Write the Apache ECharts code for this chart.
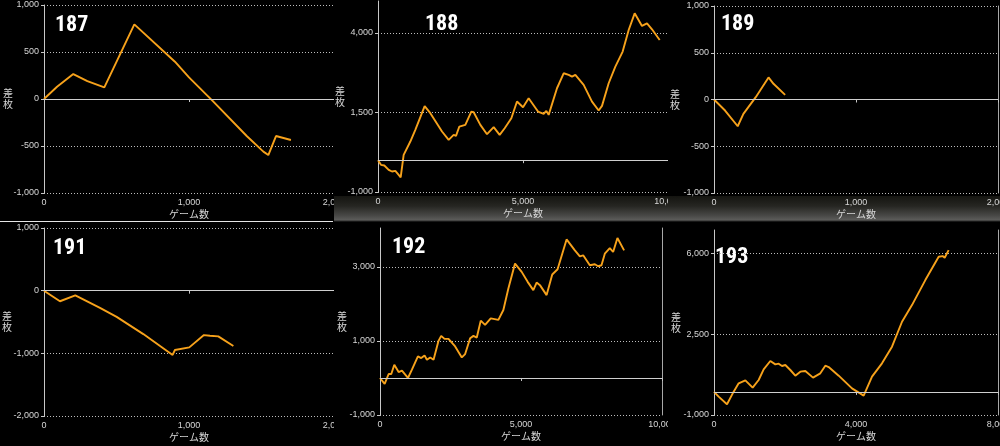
<!DOCTYPE html>
<html><head><meta charset="utf-8">
<script src="https://cdn.jsdelivr.net/npm/echarts@6/dist/echarts.min.js"></script>
<style>
html,body{margin:0;padding:0;background:#000;width:1000px;height:446px;overflow:hidden;position:relative}
.p{position:absolute;overflow:hidden;background:#000}
.band{background:linear-gradient(to bottom,#000 0px,#000 196px,#141410 196px,#262622 206px,#4a4a48 216px,#5c5c5a 220px,#000 222px)}
#sep{position:absolute;left:0;top:221px;width:333px;height:1px;background:#e6e6e6}
</style></head><body>
<div id="c187" class="p" style="left:0;top:0;width:334px;height:221px"></div>
<div id="c188" class="p band" style="left:334px;top:0;width:334px;height:222px"></div>
<div id="c189" class="p band" style="left:668px;top:0;width:332px;height:222px"></div>
<div id="c191" class="p" style="left:0;top:223px;width:334px;height:223px"></div>
<div id="c192" class="p" style="left:334px;top:223px;width:334px;height:223px"></div>
<div id="c193" class="p" style="left:668px;top:223px;width:332px;height:223px"></div>
<div id="sep"></div>
<script>
// ---- data (game count, coin difference) ----
const games187 = [0, 90, 202, 299, 416, 623, 903, 1000, 1168, 1398, 1513, 1547, 1600, 1703];
const diff187  = [0, 130, 265, 191, 124, 794, 397, 230, -28, -394, -560, -596, -394, -436];

const games188 = [0,103,218,368,483,598,713,782,885,1115,1287,1609,1805,2207,2437,2609,2690,2805,3011,3218,3299,3529,3759,3989,4195,4368,4598,4793,5000,5195,5517,5713,5805,5885,6172,6402,6575,6690,6805,7092,7379,7609,7724,7954,8184,8437,8644,8851,9103,9276,9448,9713];
const diff188  = [0,-146,-167,-303,-356,-335,-460,-544,167,586,952,1700,1475,900,638,795,764,1056,1109,1527,1506,1109,816,1036,795,1004,1318,1841,1663,1946,1527,1454,1548,1423,2259,2730,2678,2625,2678,2364,1841,1559,1705,2416,2939,3410,4090,4613,4216,4299,4111,3776];

const games189 = [0, 78, 167, 207, 294, 384, 419, 501];
const diff189  = [0, -118, -286, -154, 25, 236, 168, 50];

const games191 = [0, 110, 216, 386, 501, 685, 887, 903, 1002, 1103, 1145, 1202, 1306];
const diff191  = [0, -169, -74, -275, -418, -693, -1026, -947, -905, -709, -720, -730, -884];

const games192 = [0,165,307,401,507,660,778,991,1132,1344,1462,1580,1663,1781,1899,2075,2170,2288,2429,2665,2901,3019,3196,3314,3432,3573,3726,3927,4198,4375,4552,4788,5024,5236,5436,5554,5672,5908,6108,6297,6616,6910,7087,7205,7441,7618,7736,7854,7972,8149,8267,8420,8656];
const diff192  = [0,-161,107,107,358,161,197,0,224,582,537,609,492,555,492,1003,1137,1056,1056,850,555,645,1074,1137,1092,1549,1432,1611,1567,1835,2417,3089,2865,2596,2372,2578,2507,2238,2793,2936,3742,3447,3286,3313,3044,3071,3017,3044,3357,3509,3402,3778,3447];

const games193 = [0,131,366,554,695,883,1089,1258,1399,1587,1728,1822,1916,2009,2150,2291,2432,2573,2789,2995,3136,3230,3512,3887,4216,4451,4732,5014,5296,5577,5953,6329,6441,6498,6610];
const diff193  = [0,-207,-538,9,369,498,181,513,974,1334,1190,1219,1118,1162,946,701,874,903,615,802,1133,1075,701,153,-164,657,1233,1953,3033,3753,4834,5842,5871,5799,6130];

const panelLabels = ['187', '188', '189', '191', '192', '193'];
const xAxisName = 'ゲーム数';
const yAxisName = '差\n枚';

const LINE = '#f7a21b';
const TXT = '#d6d6d6';
const AX = '#c8c8c8';

function makePanel(id, label, games, diffs, cfg) {
  const chart = echarts.init(document.getElementById(id), null, {renderer: 'canvas'});
  const yAx = {
    type: 'value', min: cfg.yMin, max: cfg.yMax, interval: cfg.yInt,
    name: yAxisName, nameLocation: 'middle', nameRotate: 0, nameGap: cfg.nameGap,
    nameMoveOverlap: false,
    nameTextStyle: {color: TXT, fontSize: 10, lineHeight: 11, align: 'right', fontFamily: '"Noto Sans CJK JP"'},
    axisLine: {show: true, lineStyle: {color: AX, width: 1}},
    axisTick: {show: true, length: 3, lineStyle: {color: AX}},
    axisLabel: {color: TXT, fontSize: 9, margin: 5, fontFamily: '"Liberation Sans"',
      showMaxLabel: cfg.showMax},
    splitLine: {show: true, showMaxLine: cfg.showMax, lineStyle: {color: '#bdbdbd', type: [1, 2], width: 1}}
  };
  const yRight = {
    type: 'value', min: cfg.yMin, max: cfg.yMax, position: 'right',
    axisLine: {show: true, lineStyle: {color: '#a8a8a8', width: 1}},
    axisTick: {show: false}, axisLabel: {show: false}, splitLine: {show: false}
  };
  chart.setOption({
    backgroundColor: 'transparent',
    animation: false,
    grid: {left: cfg.left, top: cfg.top, width: cfg.width, height: cfg.height,
      containLabel: false, outerBoundsMode: 'none'},
    xAxis: {
      type: 'value', min: 0, max: cfg.xMax, interval: cfg.xInt,
      name: xAxisName, nameLocation: 'middle', nameGap: 16, nameMoveOverlap: false,
      nameTextStyle: {color: TXT, fontSize: 10, fontFamily: '"Noto Sans CJK JP"'},
      axisLine: {show: false},
      axisTick: {show: true, length: 3, lineStyle: {color: AX}},
      axisLabel: {color: TXT, fontSize: 9, margin: 5, fontFamily: '"Liberation Sans"'},
      splitLine: {show: false}
    },
    yAxis: [yAx, yRight],
    graphic: [{
      type: 'text', left: cfg.lx, top: cfg.ly,
      style: {text: label, fill: '#ffffff', font: 'bold 22px "Liberation Sans Narrow", "Roboto Condensed", "Liberation Sans"'}
    }],
    series: [{
      type: 'line', yAxisIndex: 0,
      data: games.map((g, i) => [g, diffs[i]]),
      showSymbol: false, symbol: 'none',
      lineStyle: {color: LINE, width: 1.9},
      markLine: {
        silent: true, symbol: ['none', 'none'], label: {show: false},
        lineStyle: {color: '#cfcfcf', type: 'solid', width: 1},
        data: [{yAxis: 0}]
      }
    }]
  });
}

makePanel('c187', panelLabels[0], games187, diff187,
  {left: 44, top: 5, width: 290, height: 188, xMax: 2000, xInt: 1000, yMin: -1000, yMax: 1000, yInt: 500, showMax: true, nameGap: 31, lx: 55, ly: 14});
makePanel('c188', panelLabels[1], games188, diff188,
  {left: 44, top: 1, width: 290, height: 191, xMax: 10000, xInt: 5000, yMin: -1000, yMax: 5000, yInt: 2500, showMax: false, nameGap: 33, lx: 91, ly: 13});
makePanel('c189', panelLabels[2], games189, diff189,
  {left: 46, top: 6, width: 284, height: 187, xMax: 2000, xInt: 1000, yMin: -1000, yMax: 1000, yInt: 500, showMax: true, nameGap: 34, lx: 53, ly: 13});
makePanel('c191', panelLabels[3], games191, diff191,
  {left: 44, top: 5, width: 290, height: 188, xMax: 2000, xInt: 1000, yMin: -2000, yMax: 1000, yInt: 1000, showMax: true, nameGap: 32, lx: 53, ly: 14});
makePanel('c192', panelLabels[4], games192, diff192,
  {left: 46, top: 5, width: 282, height: 187, xMax: 10000, xInt: 5000, yMin: -1000, yMax: 4050, yInt: 2000, showMax: false, nameGap: 33, lx: 58, ly: 13});
makePanel('c193', panelLabels[5], games193, diff193,
  {left: 46, top: 7, width: 284, height: 185, xMax: 8000, xInt: 4000, yMin: -1000, yMax: 7000, yInt: 3500, showMax: false, nameGap: 33, lx: 47, ly: 23});
</script>
</body></html>
